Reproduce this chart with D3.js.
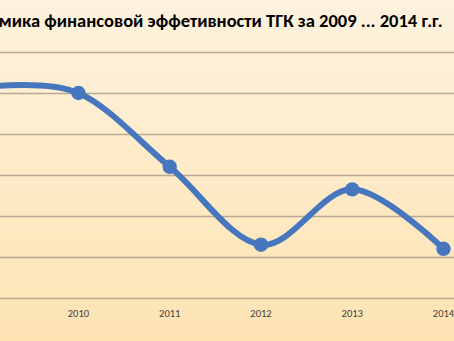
<!DOCTYPE html>
<html>
<head>
<meta charset="utf-8">
<script src="https://cdn.jsdelivr.net/npm/d3@7"></script>
<style>
  html, body { margin: 0; padding: 0; overflow: hidden; }
  svg { display: block; }
</style>
</head>
<body>
<svg id="chart"></svg>
<script>
// data
const years = ["2009", "2010", "2011", "2012", "2013", "2014"];
const values = [5.15, 5.0, 3.2, 1.3, 2.65, 1.2];
const gridTicks = [0, 1, 2, 3, 4, 5, 6];
const title = "Динамика финансовой эффетивности ТГК за 2009 ... 2014 г.г.";

const width = 454, height = 341;
const font = "Calibri, Carlito, Lato, sans-serif";

const svg = d3.select("#chart")
    .attr("width", width)
    .attr("height", height);

// background gradient
const defs = svg.append("defs");
const grad = defs.append("linearGradient")
    .attr("id", "bg")
    .attr("x1", 0).attr("y1", 0).attr("x2", 0).attr("y2", 1);
grad.append("stop").attr("offset", "0%").attr("stop-color", "#fef2de");
grad.append("stop").attr("offset", "100%").attr("stop-color", "#fde3b2");

svg.append("rect")
    .attr("width", width)
    .attr("height", height)
    .attr("fill", "url(#bg)");

// plot area is wider than the visible picture (cropped chart)
const x = d3.scalePoint()
    .domain(years)
    .range([-12.8, 443.5]);

const y = d3.scaleLinear()
    .domain([0, 6])
    .range([298, 52]);

// gridlines
svg.append("g")
    .selectAll("line")
    .data(gridTicks)
    .join("line")
    .attr("x1", 0)
    .attr("x2", width)
    .attr("y1", d => y(d) + 0.5)
    .attr("y2", d => y(d) + 0.5)
    .attr("stroke", "#b7a993")
    .attr("stroke-width", 1.4);

// x axis labels
svg.append("g")
    .selectAll("text")
    .data(years)
    .join("text")
    .attr("x", d => x(d))
    .attr("y", 316.5)
    .attr("text-anchor", "middle")
    .attr("font-family", font)
    .attr("font-size", "10.5px")
    .attr("fill", "#3f3f3f")
    .text(d => d);

// smoothed line
const line = d3.line()
    .x((d, i) => x(years[i]))
    .y(d => y(d))
    .curve(d3.curveCardinal.tension(0));

svg.append("path")
    .datum(values)
    .attr("d", line)
    .attr("fill", "none")
    .attr("stroke", "#4677be")
    .attr("stroke-width", 6)
    .attr("stroke-linecap", "round");

svg.append("g")
    .selectAll("circle")
    .data(values)
    .join("circle")
    .attr("cx", (d, i) => x(years[i]))
    .attr("cy", d => y(d))
    .attr("r", 7.2)
    .attr("fill", "#4677be");

// title, cropped on both sides like the original
const t = svg.append("text")
    .attr("y", 26.5)
    .attr("font-family", font)
    .attr("font-weight", 800)
    .attr("fill", "#000")
    .text(title);

// fit: "мика ... 2014" should span from x=1 to x=418
const tmp = svg.append("text")
    .attr("font-family", font)
    .attr("font-weight", 800)
    .attr("font-size", "16px");
const w = s => { tmp.text(s); return tmp.node().getComputedTextLength(); };
const prefix = "Дина";
const upto = "Динамика финансовой эффетивности ТГК за 2009 ... 2014";
const fs = 16 * 419 / (w(upto) - w(prefix));
tmp.attr("font-size", fs + "px");
const pre = w(prefix);
tmp.remove();
t.attr("font-size", fs + "px").attr("x", -1.5 - pre);
</script>
</body>
</html>
